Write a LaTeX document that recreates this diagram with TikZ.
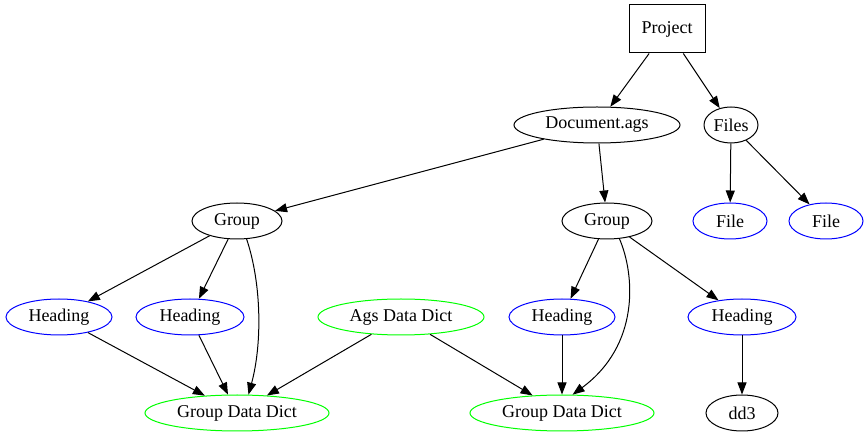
\documentclass[tikz,border=0pt]{standalone}
\usepackage{fontspec}
\setmainfont{Liberation Serif}
\usetikzlibrary{shapes.geometric,arrows.meta}
\definecolor{gvblue}{RGB}{0,0,255}
\definecolor{gvgreen}{RGB}{0,255,0}
\begin{document}
\begin{tikzpicture}[x=1pt,y=-1pt,
  every node/.style={font=\fontsize{18}{20}\selectfont, inner sep=0pt},
  ell/.style={ellipse, draw=black, line width=1pt, minimum height=36pt},
  bluell/.style={ell, draw=gvblue},
  greenell/.style={ell, draw=gvgreen},
  boxnode/.style={rectangle, draw=black, line width=1pt, minimum width=76pt, minimum height=48pt},
  edge/.style={draw, line width=1pt, -{Triangle[length=12pt,width=9pt]}}]
\useasboundingbox (0,0) rectangle (868,443);
\node[boxnode] (proj) at (667,29) {Project};
\node[ell, minimum width=166pt] (doc) at (597,125) {Document.ags};
\node[ell, minimum width=54pt] (files) at (731,125) {Files};
\node[ell, minimum width=90pt] (gl) at (237,221) {Group};
\node[ell, minimum width=90pt] (gr) at (607,221) {Group};
\node[bluell, minimum width=74pt] (f1) at (730,221) {File};
\node[bluell, minimum width=74pt] (f2) at (826,221) {File};
\node[bluell, minimum width=106pt] (h1) at (59,317) {Heading};
\node[bluell, minimum width=108pt] (h2) at (190,317) {Heading};
\node[greenell, minimum width=166pt] (ags) at (401,317) {Ags Data Dict};
\node[bluell, minimum width=106pt] (h3) at (562,317) {Heading};
\node[bluell, minimum width=108pt] (h4) at (742,317) {Heading};
\node[greenell, minimum width=184pt] (gdl) at (237,413) {Group Data Dict};
\node[greenell, minimum width=184pt] (gdr) at (562,413) {Group Data Dict};
\node[ell, minimum width=72pt] (dd3) at (742,413) {dd3};
\path[edge] (proj) -- (doc);
\path[edge] (proj) -- (files);
\path[edge] (doc) -- (gl);
\path[edge] (doc) -- (gr);
\path[edge] (files) -- (f1);
\path[edge] (files) -- (f2);
\path[edge] (gl) -- (h1);
\path[edge] (gl) -- (h2);
\path[edge] (gl.-62) .. controls (262,285) and (262,345) .. (gdl.58);
\path[edge] (gr) -- (h3);
\path[edge] (gr) -- (h4);
\path[edge] (gr.-55) .. controls (635,275) and (640,345) .. (gdr.60);
\path[edge] (h1) -- (gdl);
\path[edge] (h2) -- (gdl);
\path[edge] (ags) -- (gdl);
\path[edge] (ags) -- (gdr);
\path[edge] (h3) -- (gdr);
\path[edge] (h4) -- (dd3);
\end{tikzpicture}
\end{document}
